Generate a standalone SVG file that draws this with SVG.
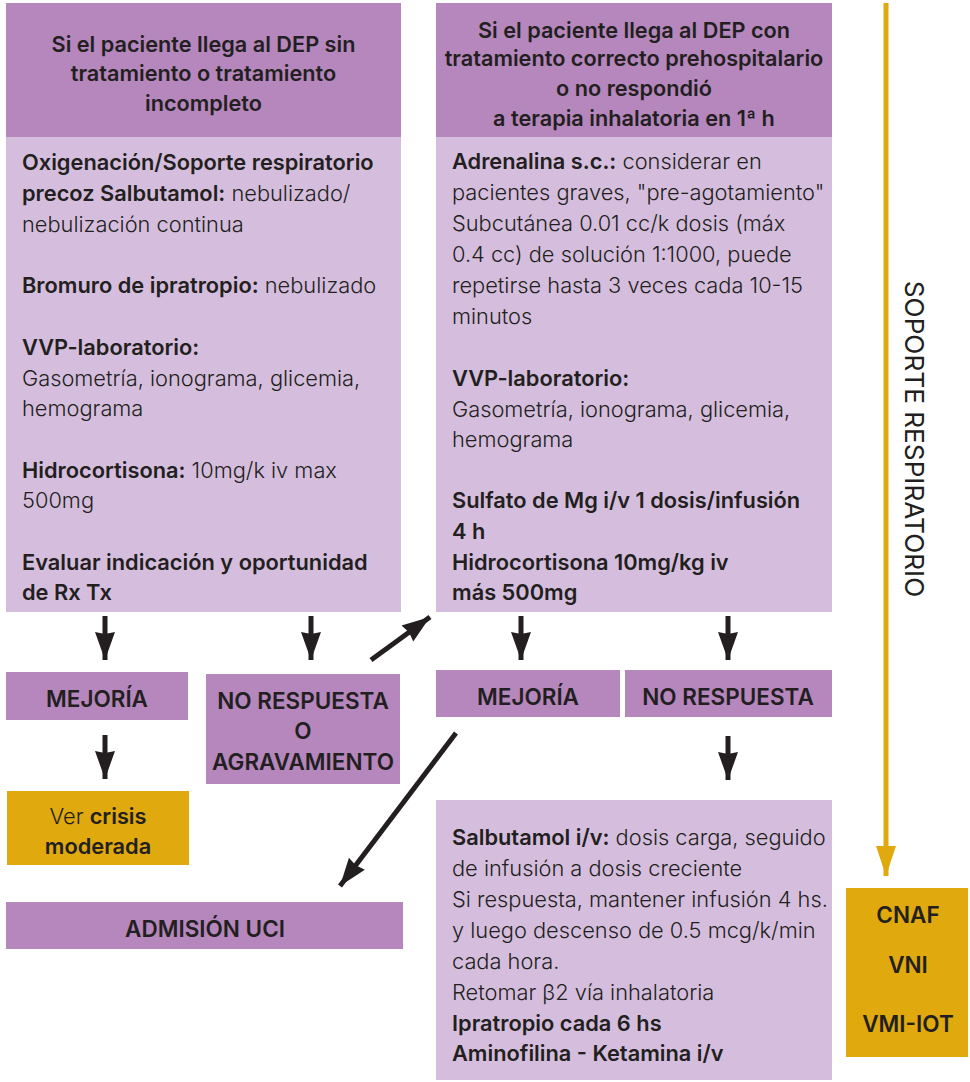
<svg xmlns="http://www.w3.org/2000/svg" width="970" height="1082" viewBox="0 0 970 1082">
<defs>
<style>
.hdr{fill:#b587bd}
.body{fill:#d5bedd}
.yel{fill:#e0a90d}
text{font-family:Inter,"Liberation Sans",sans-serif;fill:#231f20}
.t{font-size:21.8px;font-weight:300}
.b{font-weight:600}
.h{font-size:21.7px;font-weight:600;text-anchor:middle}
.lab{font-size:22.5px;font-weight:600;text-anchor:middle}
.con{stroke:#231f20;stroke-width:5;fill:none}
</style>
<marker id="ah" markerUnits="userSpaceOnUse" markerWidth="30" markerHeight="24" viewBox="0 0 30 24" refX="28" refY="12" orient="auto">
<path d="M0,2 L28,12 L0,22 L2,12 Z" fill="#231f20"/>
</marker>
<marker id="ay" markerUnits="userSpaceOnUse" markerWidth="32" markerHeight="24" viewBox="0 0 32 24" refX="30" refY="12" orient="auto">
<path d="M0,2 L30,12 L0,22 Z" fill="#e0a90d"/>
</marker>
</defs>
<rect width="970" height="1082" fill="#ffffff"/>

<g id="connectors">
<line class="con" x1="105" y1="616" x2="105" y2="660" marker-end="url(#ah)"/>
<line class="con" x1="311" y1="616" x2="311" y2="660" marker-end="url(#ah)"/>
<line class="con" x1="371" y1="660" x2="430" y2="617" marker-end="url(#ah)"/>
<line class="con" x1="105" y1="735" x2="105" y2="779" marker-end="url(#ah)"/>
<line class="con" x1="456" y1="733" x2="340" y2="886" marker-end="url(#ah)"/>
<line class="con" x1="521" y1="616" x2="521" y2="660" marker-end="url(#ah)"/>
<line class="con" x1="728" y1="616" x2="728" y2="660" marker-end="url(#ah)"/>
<line class="con" x1="728" y1="736" x2="728" y2="780" marker-end="url(#ah)"/>
<line x1="886" y1="3" x2="886" y2="876" stroke="#e0a90d" stroke-width="5" marker-end="url(#ay)"/>
</g>

<g id="left-header">
<rect class="hdr" x="6" y="3" width="395" height="134"/>
<text class="h" x="203.5" y="52">Si el paciente llega al DEP sin</text>
<text class="h" x="203.5" y="81">tratamiento o tratamiento</text>
<text class="h" x="203.5" y="111">incompleto</text>
</g>

<g id="left-body">
<rect class="body" x="6" y="137" width="395" height="475"/>
<text class="t" x="22" y="170"><tspan class="b">Oxigenación/Soporte respiratorio</tspan></text>
<text class="t" x="22" y="201"><tspan class="b">precoz Salbutamol:</tspan> nebulizado/</text>
<text class="t" x="22" y="232">nebulización continua</text>
<text class="t" x="22" y="293"><tspan class="b">Bromuro de ipratropio:</tspan> nebulizado</text>
<text class="t" x="22" y="355"><tspan class="b">VVP-laboratorio:</tspan></text>
<text class="t" x="22" y="386">Gasometría, ionograma, glicemia,</text>
<text class="t" x="22" y="416">hemograma</text>
<text class="t" x="22" y="478"><tspan class="b">Hidrocortisona:</tspan> 10mg/k iv max</text>
<text class="t" x="22" y="508">500mg</text>
<text class="t" x="22" y="570"><tspan class="b">Evaluar indicación y oportunidad</tspan></text>
<text class="t" x="22" y="600"><tspan class="b">de Rx Tx</tspan></text>
</g>

<g id="right-header">
<rect class="hdr" x="436" y="3" width="396" height="134"/>
<text class="h" x="634" y="38">Si el paciente llega al DEP con</text>
<text class="h" x="634" y="66">tratamiento correcto prehospitalario</text>
<text class="h" x="634" y="96">o no respondió</text>
<text class="h" x="634" y="126">a terapia inhalatoria en 1ª h</text>
</g>

<g id="right-body">
<rect class="body" x="436" y="137" width="396" height="475"/>
<text class="t" x="452" y="169"><tspan class="b">Adrenalina s.c.:</tspan> considerar en</text>
<text class="t" x="452" y="200">pacientes graves, "pre-agotamiento"</text>
<text class="t" x="452" y="231">Subcutánea 0.01 cc/k dosis (máx</text>
<text class="t" x="452" y="262">0.4 cc) de solución 1:1000, puede</text>
<text class="t" x="452" y="293">repetirse hasta 3 veces cada 10-15</text>
<text class="t" x="452" y="324">minutos</text>
<text class="t" x="452" y="386"><tspan class="b">VVP-laboratorio:</tspan></text>
<text class="t" x="452" y="417">Gasometría, ionograma, glicemia,</text>
<text class="t" x="452" y="447">hemograma</text>
<text class="t" x="452" y="508"><tspan class="b">Sulfato de Mg i/v 1 dosis/infusión</tspan></text>
<text class="t" x="452" y="539"><tspan class="b">4 h</tspan></text>
<text class="t" x="452" y="570"><tspan class="b">Hidrocortisona 10mg/kg iv</tspan></text>
<text class="t" x="452" y="600"><tspan class="b">más 500mg</tspan></text>
</g>

<g id="mejoria-left">
<rect class="hdr" x="6" y="672" width="182" height="48"/>
<text class="lab" x="97" y="707">MEJORÍA</text>
</g>

<g id="no-respuesta-agravamiento">
<rect class="hdr" x="206" y="674" width="194" height="110"/>
<text class="lab" x="303" y="709">NO RESPUESTA</text>
<text class="lab" x="303" y="739">O</text>
<text class="lab" x="303" y="770">AGRAVAMIENTO</text>
</g>

<g id="ver-crisis">
<rect class="yel" x="7" y="791" width="182" height="74"/>
<text class="t" x="98" y="824" text-anchor="middle">Ver <tspan class="b">crisis</tspan></text>
<text class="t b" x="98" y="854" text-anchor="middle">moderada</text>
</g>

<g id="admision-uci">
<rect class="hdr" x="6" y="902" width="397" height="47"/>
<text class="lab" x="205" y="937">ADMISIÓN UCI</text>
</g>

<g id="mejoria-right">
<rect class="hdr" x="436" y="670" width="184" height="47"/>
<text class="lab" x="528" y="705">MEJORÍA</text>
</g>

<g id="no-respuesta-right">
<rect class="hdr" x="625" y="670" width="207" height="47"/>
<text class="lab" x="728" y="705">NO RESPUESTA</text>
</g>

<g id="salbutamol-iv">
<rect class="body" x="436" y="800" width="396" height="280"/>
<text class="t" x="452" y="845"><tspan class="b">Salbutamol i/v:</tspan> dosis carga, seguido</text>
<text class="t" x="452" y="876">de infusión a dosis creciente</text>
<text class="t" x="452" y="907">Si respuesta, mantener infusión 4 hs.</text>
<text class="t" x="452" y="938">y luego descenso de 0.5 mcg/k/min</text>
<text class="t" x="452" y="969">cada hora.</text>
<text class="t" x="452" y="1000">Retomar β2 vía inhalatoria</text>
<text class="t" x="452" y="1031"><tspan class="b">Ipratropio cada 6 hs</tspan></text>
<text class="t" x="452" y="1061"><tspan class="b">Aminofilina - Ketamina i/v</tspan></text>
</g>

<g id="soporte-label">
<text x="914" y="439" transform="rotate(90 914 439)" text-anchor="middle" dominant-baseline="central" style="font-size:26.2px;font-weight:400">SOPORTE RESPIRATORIO</text>
</g>

<g id="cnaf-box">
<rect class="yel" x="846" y="888" width="122" height="169"/>
<text class="lab" x="908" y="923">CNAF</text>
<text class="lab" x="908" y="973">VNI</text>
<text class="lab" x="908" y="1032">VMI-IOT</text>
</g>
</svg>
